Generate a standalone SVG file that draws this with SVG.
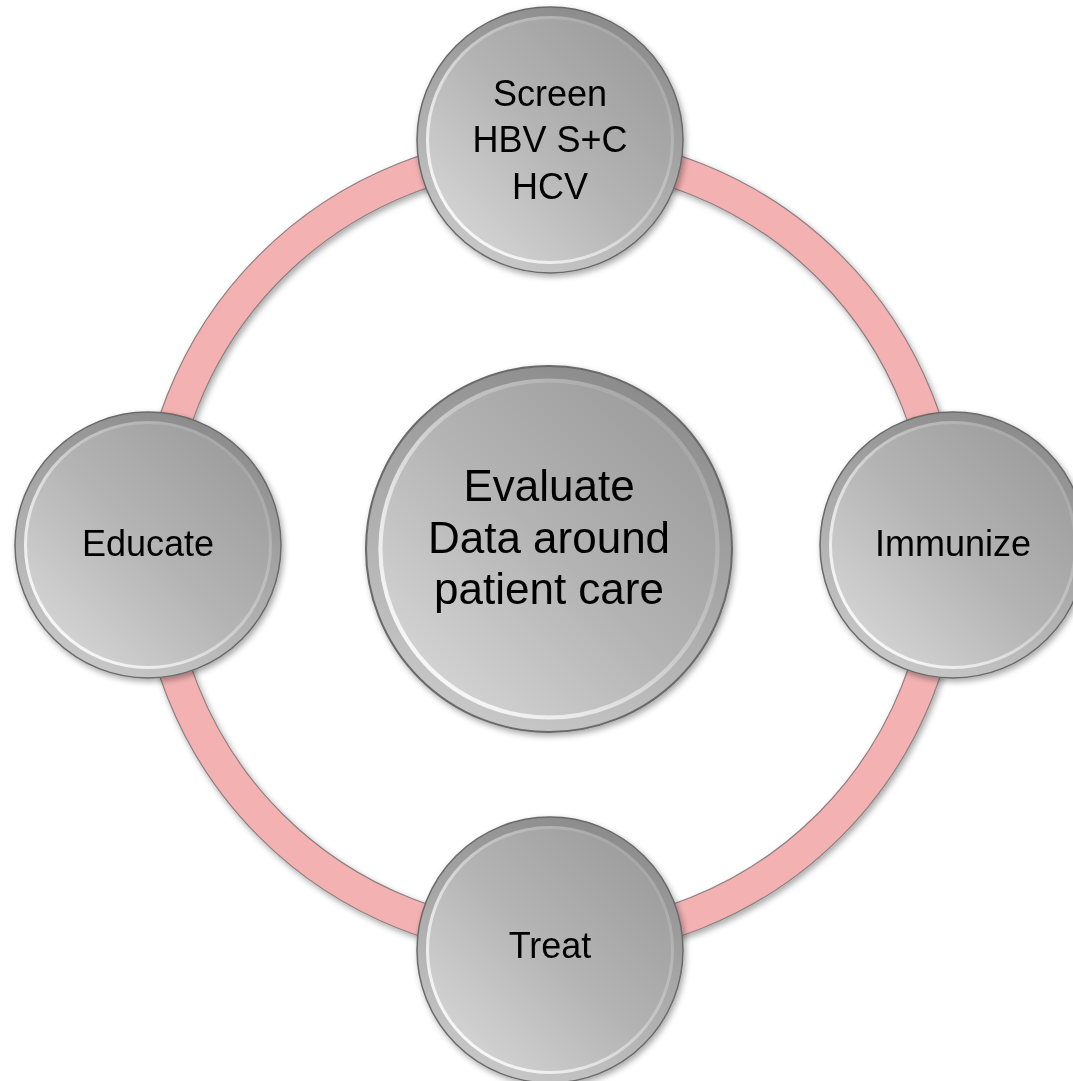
<svg xmlns="http://www.w3.org/2000/svg" width="1073" height="1081" viewBox="0 0 1073 1081">
<defs>
<linearGradient id="face" x1="1" y1="0" x2="0" y2="1">
<stop offset="0" stop-color="#959595"/>
<stop offset="0.5" stop-color="#b4b4b4"/>
<stop offset="1" stop-color="#dedede"/>
</linearGradient>
<linearGradient id="rim" x1="0.7" y1="0" x2="0.3" y2="1">
<stop offset="0" stop-color="#8a8a8a"/>
<stop offset="1" stop-color="#c9c9c9"/>
</linearGradient>
<linearGradient id="hl" x1="1" y1="0" x2="0" y2="1">
<stop offset="0" stop-color="#ffffff" stop-opacity="0"/>
<stop offset="0.45" stop-color="#ffffff" stop-opacity="0.3"/>
<stop offset="1" stop-color="#ffffff" stop-opacity="1"/>
</linearGradient>
<filter id="sh" x="-20%" y="-20%" width="140%" height="140%">
<feGaussianBlur in="SourceAlpha" stdDeviation="3"/>
<feOffset dx="2" dy="3" result="b"/>
<feComponentTransfer><feFuncA type="linear" slope="0.35"/></feComponentTransfer>
<feMerge><feMergeNode/><feMergeNode in="SourceGraphic"/></feMerge>
</filter>
<g id="btn">
<circle r="133" fill="url(#rim)" stroke="#6a6a6a" stroke-width="1.5"/>
<circle r="124" fill="url(#face)"/>
<circle r="122.5" fill="none" stroke="url(#hl)" stroke-width="3"/>
</g>
</defs>
<style>
text{font-family:"Liberation Sans",Arial,sans-serif;fill:#000;text-anchor:middle}
.o{font-size:36px}
.c{font-size:44px}
</style>
<rect width="1073" height="1081" fill="#ffffff"/>
<g id="connectors" filter="url(#sh)">
<circle cx="550" cy="546" r="395" fill="none" stroke="#8f8080" stroke-width="34"/>
<circle cx="550" cy="546" r="395" fill="none" stroke="#f4b1b2" stroke-width="31.5"/>
</g>
<g id="center" filter="url(#sh)">
<g transform="translate(549 549) scale(1.376)"><use href="#btn"/></g>
<text class="c" x="549" y="501">Evaluate</text>
<text class="c" x="549" y="553">Data around</text>
<text class="c" x="549" y="604">patient care</text>
</g>
<g id="screen" filter="url(#sh)">
<use href="#btn" x="550" y="140"/>
<text class="o" x="550" y="106">Screen</text>
<text class="o" x="550" y="152">HBV S+C</text>
<text class="o" x="550" y="199">HCV</text>
</g>
<g id="immunize" filter="url(#sh)">
<use href="#btn" x="953" y="545"/>
<text class="o" x="953" y="556">Immunize</text>
</g>
<g id="treat" filter="url(#sh)">
<use href="#btn" x="550" y="950"/>
<text class="o" x="550" y="958">Treat</text>
</g>
<g id="educate" filter="url(#sh)">
<use href="#btn" x="148" y="545"/>
<text class="o" x="148" y="556">Educate</text>
</g>
</svg>
